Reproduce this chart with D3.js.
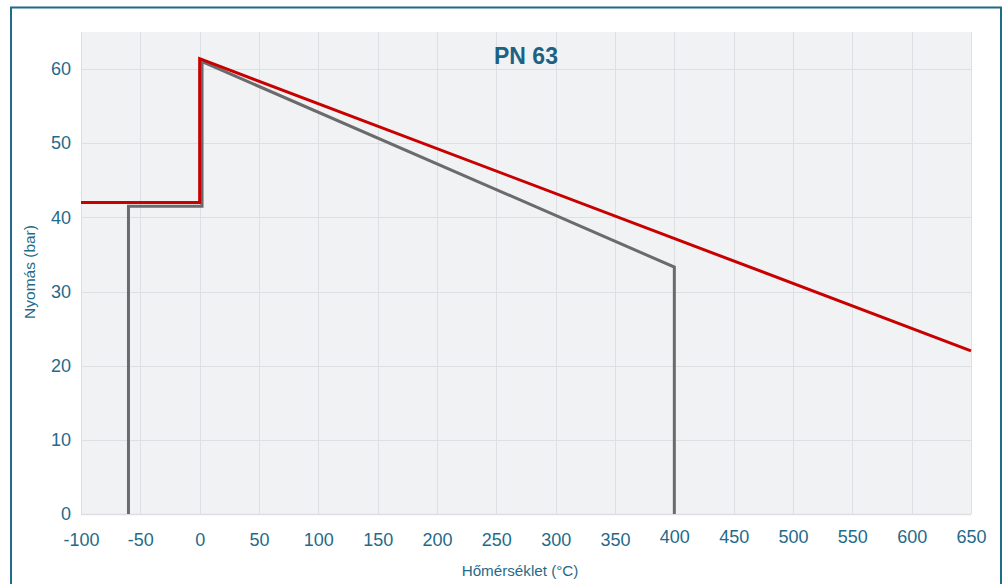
<!DOCTYPE html>
<html><head><meta charset="utf-8">
<script src="https://cdn.jsdelivr.net/npm/d3@7"></script>
<style>
html,body{margin:0;padding:0;background:#fff;}
svg{display:block;font-family:"Liberation Sans",Arial,sans-serif;}
</style></head>
<body>
<svg id="c" width="1006" height="584"></svg>
<script>
const xTicks = [-100,-50,0,50,100,150,200,250,300,350,400,450,500,550,600,650];
const yTicks = [0,10,20,30,40,50,60];
const redTemps = [-100, 0, 0, 650];
const redPress = [42, 42, 61.4, 22];
const greyTemps = [-60, -60, 2, 2, 400, 400];
const greyPress = [0, 41.5, 41.5, 61, 33.3, 0];
const title = "PN 63";
const xTitle = "Hőmérséklet (°C)";
const yTitle = "Nyomás (bar)";

const svg = d3.select("#c");
const W = 1006, H = 584;
const m = {l:81, r:1006-971, t:32, b:584-514};
const x = d3.scaleLinear().domain([-100,650]).range([m.l, W-m.r]);
const y = d3.scaleLinear().domain([0,65]).range([H-m.b, m.t]);
const teal = "#1f6b8a";

// frame
svg.append("rect").attr("x",11).attr("y",7.5).attr("width",990).attr("height",600)
  .attr("fill","none").attr("stroke",teal).attr("stroke-width",2);

// plot bg
svg.append("rect").attr("x",x(-100)).attr("y",y(65)).attr("width",x(650)-x(-100)).attr("height",y(0)-y(65))
  .attr("fill","#f1f2f4");

// grid
const g = svg.append("g");
g.selectAll(".vg").data(xTicks).join("line")
  .attr("x1",d=>Math.round(x(d))+0.5).attr("x2",d=>Math.round(x(d))+0.5)
  .attr("y1",y(65)).attr("y2",y(0)).attr("stroke","#dedfe2").attr("stroke-width",1);
g.selectAll(".hg").data(yTicks).join("line")
  .attr("x1",x(-100)).attr("x2",x(650))
  .attr("y1",d=>Math.round(y(d))+0.5).attr("y2",d=>Math.round(y(d))+0.5)
  .attr("stroke","#dedfe2").attr("stroke-width",d=>d===0?1.5:1);

// axes labels
const xAxis = d3.axisBottom(x).tickValues(xTicks).tickSize(0).tickPadding(16).tickFormat(d=>String(d));
const xa = svg.append("g").attr("transform",`translate(0,${y(0)})`).call(xAxis);
xa.select(".domain").remove();
xa.selectAll("text").attr("fill",teal).attr("font-size","18px")
  .attr("font-family","'Liberation Sans',Arial,sans-serif")
  .attr("dy",d=>d>=400?"0.72em":"0.9em");

const yAxis = d3.axisLeft(y).tickValues(yTicks).tickSize(0).tickPadding(10).tickFormat(d=>String(d));
const ya = svg.append("g").attr("transform",`translate(${x(-100)},0)`).call(yAxis);
ya.select(".domain").remove();
ya.selectAll("text").attr("fill",teal).attr("font-size","18px")
  .attr("font-family","'Liberation Sans',Arial,sans-serif");

// titles
svg.append("text").attr("x",526).attr("y",64).attr("text-anchor","middle")
  .attr("font-weight","bold").attr("font-size","23px").attr("fill","#1d6283").text(title);
svg.append("text").attr("x",520).attr("y",576).attr("text-anchor","middle")
  .attr("font-size","15.2px").attr("fill",teal).text(xTitle);
svg.append("text").attr("transform","translate(35,272) rotate(-90)").attr("text-anchor","middle")
  .attr("font-size","15.5px").attr("fill",teal).text(yTitle);

// lines
const line = d3.line().x(d=>x(d[0])).y(d=>y(d[1]));
const grey = greyTemps.map((t,i)=>[t,greyPress[i]]);
const red = redTemps.map((t,i)=>[t,redPress[i]]);
svg.append("path").attr("d",line(grey)).attr("fill","none").attr("stroke","#6b6b6d")
  .attr("stroke-width",3).attr("stroke-linejoin","miter");
svg.append("path").attr("d",line(red)).attr("fill","none").attr("stroke","#c80000")
  .attr("stroke-width",3).attr("stroke-linejoin","miter");
</script>
</body></html>
